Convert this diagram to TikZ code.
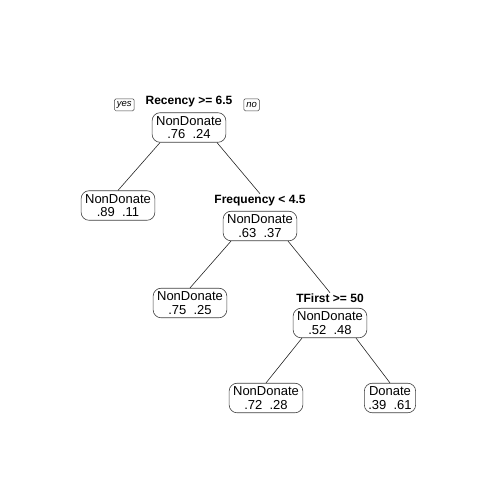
\documentclass[tikz,border=0pt]{standalone}
\usepackage{fontspec}
\setmainfont{Liberation Sans}
\usetikzlibrary{positioning,calc}

\begin{document}
\begin{tikzpicture}[
    x=1pt, y=-1pt,
    node distance=4pt,
    leaf/.style={rectangle, draw=black!75, line width=0.6pt, rounded corners=8pt, align=center,
        inner xsep=4pt, inner ysep=3.5pt, font=\fontsize{13}{13.5}\selectfont},
    splitlab/.style={font=\fontsize{12}{13}\selectfont\bfseries, inner sep=1pt},
    yesno/.style={rectangle, draw=black!75, line width=0.5pt, rounded corners=1.5pt,
        font=\fontsize{9.5}{10}\selectfont\itshape, inner xsep=2.5pt, inner ysep=1pt,
        minimum height=12pt},
    edge/.style={draw=black!85, line width=0.6pt}
]
    \useasboundingbox (0,0) rectangle (504,504);

    \node[leaf] (root) at (189,127.5) {NonDonate\\.76~~.24};
    \node[leaf] (leafA) at (118,205.5) {NonDonate\\.89~~.11};
    \node[leaf] (freq) at (260,226) {NonDonate\\.63~~.37};
    \node[leaf] (leafB) at (190,303) {NonDonate\\.75~~.25};
    \node[leaf] (tfirst) at (330,323) {NonDonate\\.52~~.48};
    \node[leaf] (leafC) at (266,398) {NonDonate\\.72~~.28};
    \node[leaf] (leafD) at (390,398) {Donate\\.39~~.61};

    \node[splitlab, above=of root] (rootlab) {Recency >= 6.5};
    \node[splitlab, above=of freq] (freqlab) {Frequency < 4.5};
    \node[splitlab, above=of tfirst] (tfirstlab) {TFirst >= 50};

    \node[yesno, left=10pt of rootlab, yshift=-3pt] (yes) {yes};
    \node[yesno, right=10pt of rootlab, yshift=-3pt] (no) {no};

    \draw[edge] ($(root.south)+(-29,0)$) -- (leafA.north);
    \draw[edge] ($(root.south)+(28,0)$) -- (freqlab.north);
    \draw[edge] ($(freq.south)+(-29,0)$) -- (leafB.north);
    \draw[edge] ($(freq.south)+(28,0)$) -- (tfirstlab.north);
    \draw[edge] ($(tfirst.south)+(-28,0)$) -- (leafC.north);
    \draw[edge] ($(tfirst.south)+(26,0)$) -- (leafD.north);
\end{tikzpicture}
\end{document}
